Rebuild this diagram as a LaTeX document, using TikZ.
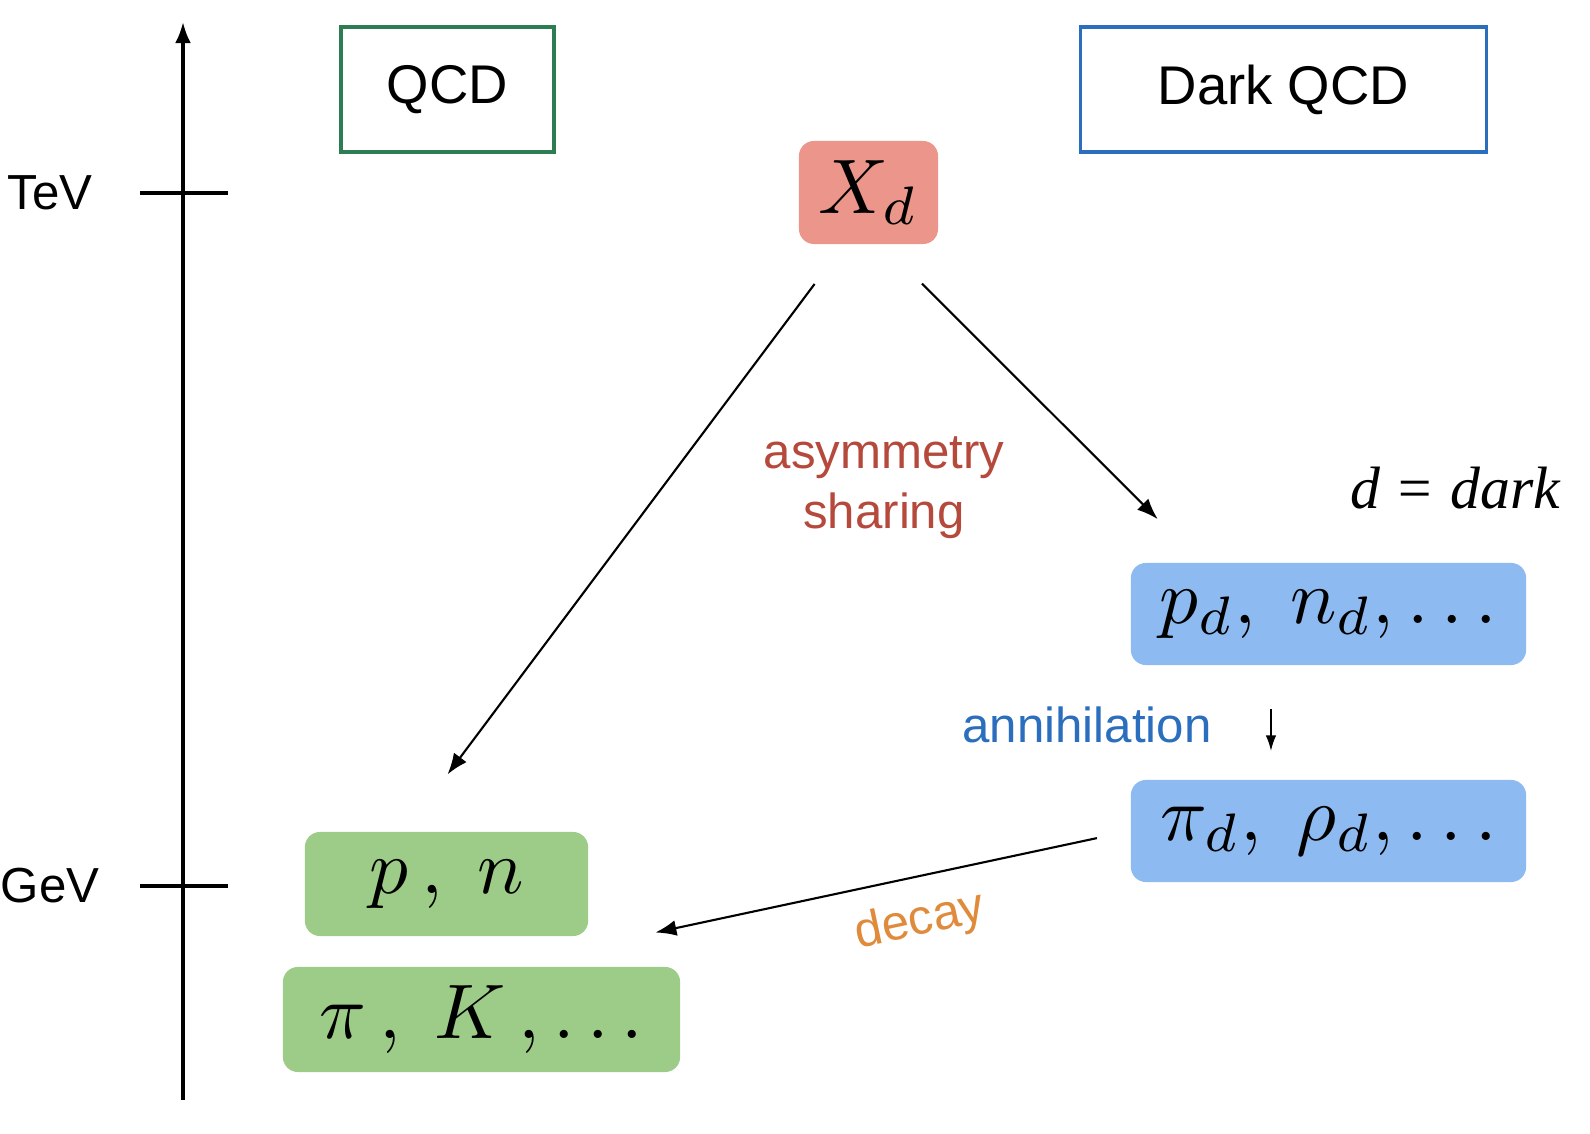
\documentclass[tikz,border=0pt]{standalone}
\usepackage{graphicx}
\usepackage{fontspec}
\setmainfont{Liberation Sans}
\newfontfamily\timesfont{Liberation Serif}
\usetikzlibrary{arrows.meta}
\definecolor{qcdgreen}{HTML}{2E7D52}
\definecolor{darkblue}{HTML}{2A6EBD}
\definecolor{xdred}{HTML}{EB958B}
\definecolor{darkfill}{HTML}{8DBBF1}
\definecolor{smfill}{HTML}{9DCC88}
\definecolor{asymred}{HTML}{B5493C}
\definecolor{decayorange}{HTML}{E08A3C}
\newcommand{\bigmath}[1]{\scalebox{2.2}{$#1$}}
\tikzset{
	header/.style={draw, line width=0.9pt, inner sep=0pt, minimum height=1.25cm, font=\fontsize{15.5}{18}\selectfont},
	blob/.style={rounded corners=0.15cm, inner sep=0pt, minimum height=1.03cm},
	lbl/.style={font=\fontsize{14}{17}\selectfont, align=center},
}
\begin{document}
\begin{tikzpicture}[x=0.01cm, y=-0.01cm, >={Latex[length=6pt,width=4.5pt]}]
		\useasboundingbox (0,0) rectangle (1590,1134);
		% energy axis
		\coordinate (bottom) at (183,1100);
		\coordinate (top) at (183,22);
		\draw [->, line width=0.9pt] (bottom) -- (top);
		\node (tev) at (50,193) [lbl] {TeV};
		\node (gev) at (50,886) [lbl] {GeV};
		\draw [line width=0.9pt] (140,193) -- (228,193);
		\draw [line width=0.9pt] (140,886) -- (228,886);
		% headers
		\node (qcd) [header, draw=qcdgreen, minimum width=2.13cm] at (447.5,89.5) {QCD};
		\node (dqcd) [header, draw=darkblue, minimum width=4.05cm] at (1283.5,89.5) {Dark QCD};
		% states
		\node (Xd) [blob, fill=xdred, minimum width=1.39cm] at (868.5,192.5) {\bigmath{X_d}};
		\node (pd) [blob, fill=darkfill, minimum width=3.95cm, minimum height=1.02cm] at (1328.5,614) {\bigmath{p_d,\; n_d, \ldots}};
		\node (pid) [blob, fill=darkfill, minimum width=3.95cm, minimum height=1.02cm] at (1328.5,831) {\bigmath{\pi_d,\; \rho_d, \ldots}};
		\node (pn) [blob, fill=smfill, minimum width=2.83cm, minimum height=1.04cm] at (446.5,884) {\bigmath{p\,,\; n}};
		\node (piK) [blob, fill=smfill, minimum width=3.97cm, minimum height=1.05cm] at (481.5,1019.5) {\bigmath{\pi\,,\; K\,,\ldots}};
		% labels
		\node (asym) [lbl, text=asymred] at (884,488) {asymmetry\\sharing};
		\node (annih) [lbl, text=darkblue] at (1087,725) {annihilation};
		\node (decay) [lbl, text=decayorange, rotate=12] at (920,922) {decay};
		\node (dark) at (1455,488) {\timesfont\itshape\fontsize{17}{20}\selectfont d = dark};
		% arrows
		\draw [->, line width=0.6pt, shorten <=0.49cm, shorten >=0.71cm] ([xshift=-0.245cm]Xd.south) -- ([xshift=-0.415cm]pn.north);
		\draw [->, line width=0.6pt, shorten <=0.55cm, shorten >=0.61cm] ([xshift=0.145cm]Xd.south) -- ([xshift=-1.275cm]pd.north);
		\draw [->, line width=0.6pt, shorten <=0.43cm, shorten >=0.28cm, >={Latex[length=4.5pt,width=3pt]}] ([xshift=-0.575cm]pd.south) -- ([xshift=-0.575cm]pid.north);
		\draw [->, line width=0.6pt, shorten <=0.34cm, shorten >=0.68cm] (pid.west) -- ([yshift=-0.1cm]pn.south east);
	\end{tikzpicture}
\end{document}
